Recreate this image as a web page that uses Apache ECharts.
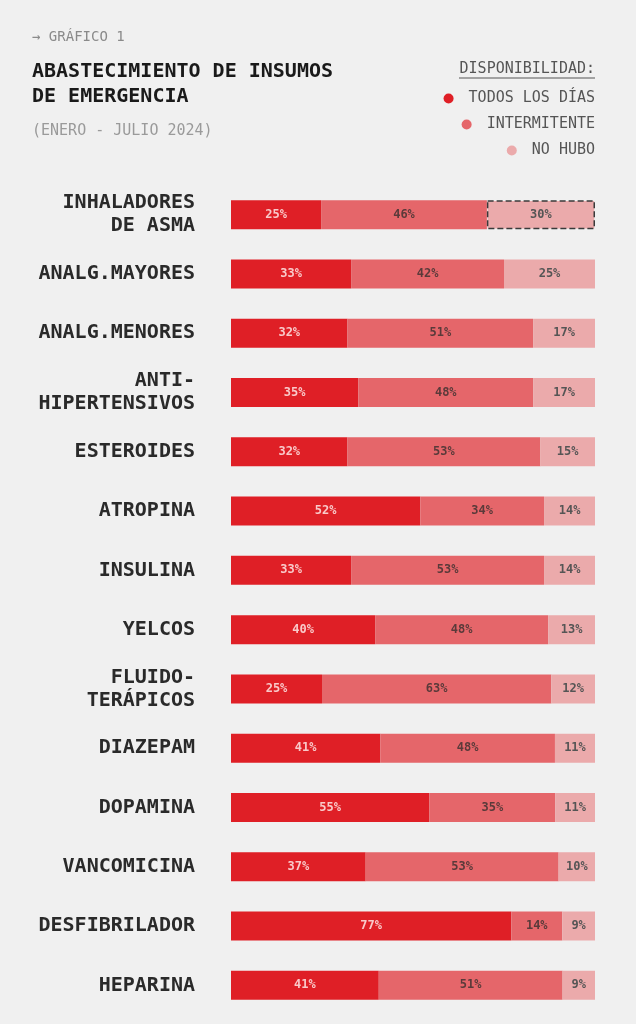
<!DOCTYPE html>
<html>
<head>
<meta charset="utf-8">
<script src="https://cdn.jsdelivr.net/npm/echarts@6/dist/echarts.min.js"></script>
<style>
html,body{margin:0;padding:0;background:#f0f0f0;}
#c{width:636px;height:1024px;}
</style>
</head>
<body>
<div id="c"></div>
<script>
const categories = ['INHALADORES\nDE ASMA','ANALG.MAYORES','ANALG.MENORES','ANTI-\nHIPERTENSIVOS','ESTEROIDES','ATROPINA','INSULINA','YELCOS','FLUIDO-\nTERÁPICOS','DIAZEPAM','DOPAMINA','VANCOMICINA','DESFIBRILADOR','HEPARINA'];
const todosLosDias = [25,33,32,35,32,52,33,40,25,41,55,37,77,41];
const intermitente = [46,42,51,48,53,34,53,48,63,48,35,53,14,51];
const noHubo = [30,25,17,17,15,14,14,13,12,11,11,10,9,9];
const seriesNames = ['TODOS LOS DÍAS','INTERMITENTE','NO HUBO'];

const MONO = '"DejaVu Sans Mono","Liberation Mono",monospace';
const colors = ['#df1f26','#e5666a','#ebaaab'];
const labelColors = ['#f9c9c9','#5a3a3a','#555555'];
const raw = [todosLosDias, intermitente, noHubo];
const totals = categories.map((_, i) => todosLosDias[i] + intermitente[i] + noHubo[i]);

const series = raw.map((arr, s) => ({
  name: seriesNames[s],
  type: 'bar',
  stack: 'total',
  barWidth: 29,
  itemStyle: { color: colors[s] },
  label: {
    show: true,
    position: 'inside',
    fontFamily: MONO,
    fontSize: 12,
    fontWeight: 'bold',
    color: labelColors[s],
    formatter: p => arr[p.dataIndex] + '%'
  },
  data: arr.map((v, i) => {
    const item = { value: v / totals[i] * 100 };
    if (s === 2 && i === 0) {
      item.itemStyle = { borderType: 'dashed', borderColor: '#3a3a3a', borderWidth: 1.5 };
    }
    return item;
  })
}));

const chart = echarts.init(document.getElementById('c'));
chart.setOption({
  backgroundColor: '#f0f0f0',
  animation: false,
  title: [
    { text: '→ GRÁFICO 1', left: 27, top: 25, textStyle: { fontFamily: MONO, fontSize: 14, fontWeight: 'normal', color: '#8a8a8a' } },
    { text: 'ABASTECIMIENTO DE INSUMOS\nDE EMERGENCIA', left: 27, top: 54, textStyle: { fontFamily: MONO, fontSize: 20, fontWeight: 'bold', color: '#1a1a1a', lineHeight: 25 } },
    { text: '(ENERO - JULIO 2024)', left: 27, top: 119, textStyle: { fontFamily: MONO, fontSize: 15, fontWeight: 'normal', color: '#9a9a9a' } }
  ],
  legend: seriesNames.map((n, i) => ({
    data: [n],
    right: 41,
    top: 91 + i * 26,
    padding: 0,
    icon: 'circle',
    itemWidth: 10,
    itemHeight: 10,
    textStyle: { fontFamily: MONO, fontSize: 15, color: '#555', padding: [0, 0, 0, 10] },
    selectedMode: false
  })),
  graphic: [
    { type: 'text', x: 595, y: 69, style: { text: 'DISPONIBILIDAD:', font: '15px ' + MONO, fill: '#555', align: 'right', verticalAlign: 'middle' } },
    { type: 'line', shape: { x1: 459, y1: 78, x2: 595, y2: 78 }, style: { stroke: '#555', lineWidth: 1 } }
  ],
  grid: { left: 231, right: 41, top: 185, bottom: 9 },
  xAxis: { type: 'value', min: 0, max: 100, show: false },
  yAxis: {
    type: 'category',
    data: categories,
    inverse: true,
    axisLine: { show: false },
    axisTick: { show: false },
    axisLabel: { fontFamily: MONO, fontSize: 20, fontWeight: 'bold', color: '#2a2a2a', margin: 36, lineHeight: 23, align: 'right' }
  },
  series
});
</script>
</body>
</html>
